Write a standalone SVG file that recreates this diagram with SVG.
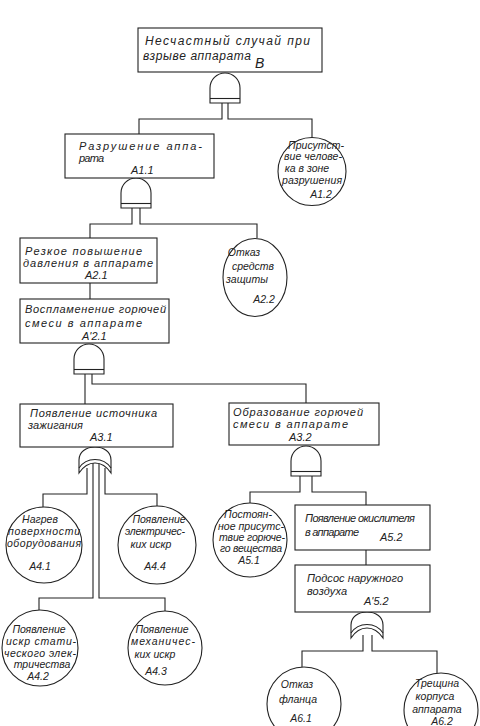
<svg xmlns="http://www.w3.org/2000/svg" width="480" height="726" viewBox="0 0 480 726">
<style>
.b{fill:#fff;stroke:#222;stroke-width:1.1}
.w{fill:none;stroke:#222;stroke-width:1.1}
.t{font-family:"Liberation Sans","DejaVu Sans",sans-serif;font-style:italic;font-size:11px;fill:#222}
.c{font-family:"Liberation Sans","DejaVu Sans",sans-serif;font-style:italic;font-size:10.5px;fill:#222;text-anchor:middle}
.T{font-family:"Liberation Sans","DejaVu Sans",sans-serif;font-style:italic;font-size:12px;fill:#222}
</style>
<defs>
<g id="and">
<path class="b" d="M -15 30 L -15 15 A 15 15 0 0 1 15 15 L 15 30 Z"/>
<line class="w" x1="-15" y1="25.5" x2="15" y2="25.5"/>
</g>
<g id="or">
<path class="b" d="M -16 26 L -16 13 C -16 5 -9 0 0 0 C 9 0 16 5 16 13 L 16 26 C 12 20 6 16 0 16 C -6 16 -12 20 -16 26 Z"/>
<path class="w" d="M -16 21 C -12 15 -6 12.5 0 12.5 C 6 12.5 12 15 16 21"/>
</g>
</defs>
<rect width="480" height="726" fill="#fff"/>
<g id="connectors" class="w">
<polyline points="222,103 222,119 139,119 139,134"/>
<polyline points="228,103 228,119 312,119 312,138"/>
<polyline points="132,207 132,224 90,224 90,238"/>
<polyline points="140,207 140,224 257,224 257,238"/>
<line x1="90" y1="283" x2="90" y2="299"/>
<line x1="85" y1="374" x2="85" y2="404"/>
<polyline points="92,374 92,384 306,384 306,403"/>
<polyline points="87,468 87,494 43,494 43,507"/>
<polyline points="105,468 105,494 157,494 157,506"/>
<polyline points="93,462 93,598 39,598 39,610"/>
<polyline points="99,462 99,598 165,598 165,611"/>
<polyline points="300,475 300,492 250,492 250,503"/>
<polyline points="312,475 312,492 366,492 366,505"/>
<line x1="366" y1="550" x2="366" y2="565"/>
<polyline points="363,635 363,651 302,651 302,667"/>
<polyline points="372,635 372,651 437,651 437,673"/>
</g>
<g id="gates">
<use href="#and" x="225" y="73"/>
<use href="#and" x="136" y="178"/>
<use href="#and" x="89" y="344"/>
<use href="#or" x="95" y="447"/>
<use href="#and" x="306" y="446"/>
<use href="#or" x="367" y="612"/>
</g>
<g id="B">
<rect class="b" x="138" y="28" width="184" height="44"/>
<text class="T" x="145" y="45" textLength="165">Несчастный случай при</text>
<text class="T" x="143" y="60" textLength="108">взрыве аппарата</text>
<text class="T" x="255" y="68" style="font-size:14px">В</text>
</g>
<g id="A1.1">
<rect class="b" x="65" y="134" width="149" height="44"/>
<text class="t" x="79" y="150" textLength="123">Разрушение аппа-</text>
<text class="t" x="79" y="162" textLength="25">рата</text>
<text class="t" x="131" y="174">A1.1</text>
</g>
<g id="A1.2">
<circle class="b" cx="312" cy="171.5" r="34"/>
<text class="c" x="316" y="149">Присутст-</text>
<text class="c" x="313" y="160" textLength="58">вие челове-</text>
<text class="c" x="307" y="172">ка в зоне</text>
<text class="c" x="312" y="184" textLength="60">разрушения</text>
<text class="c" x="321" y="198">A1.2</text>
</g>
<g id="A2.1">
<rect class="b" x="20" y="238" width="137" height="45"/>
<text class="t" x="25" y="255" textLength="117">Резкое повышение</text>
<text class="t" x="23" y="267" textLength="130">давления в аппарате</text>
<text class="t" x="85" y="279">A2.1</text>
</g>
<g id="A2.2">
<ellipse class="b" cx="255" cy="277.5" rx="32" ry="39"/>
<text class="c" x="244" y="256">Отказ</text>
<text class="c" x="253" y="270">средств</text>
<text class="c" x="247" y="283">защиты</text>
<text class="c" x="264" y="303">A2.2</text>
</g>
<g id="A'2.1">
<rect class="b" x="20" y="299" width="149" height="44"/>
<text class="t" x="25" y="313" textLength="141">Воспламенение горючей</text>
<text class="t" x="25" y="327" textLength="117">смеси в аппарате</text>
<text class="t" x="82" y="340">A'2.1</text>
</g>
<g id="A3.1">
<rect class="b" x="20" y="404" width="153" height="43"/>
<text class="t" x="30" y="417" textLength="127">Появление источника</text>
<text class="t" x="28" y="429" textLength="55">зажигания</text>
<text class="t" x="90" y="441">A3.1</text>
</g>
<g id="A3.2">
<rect class="b" x="229" y="403" width="150" height="42"/>
<text class="t" x="233" y="416" textLength="130">Образование горючей</text>
<text class="t" x="233" y="428" textLength="115">смеси в аппарате</text>
<text class="t" x="289" y="441">A3.2</text>
</g>
<g id="A4.1">
<circle class="b" cx="44" cy="545" r="38"/>
<text class="c" x="40" y="523">Нагрев</text>
<text class="c" x="44" y="535" textLength="72">поверхности</text>
<text class="c" x="44" y="547" textLength="74">оборудования</text>
<text class="c" x="40" y="570">A4.1</text>
</g>
<g id="A4.4">
<circle class="b" cx="157" cy="545" r="39"/>
<text class="c" x="159" y="523">Появление</text>
<text class="c" x="155" y="535" textLength="60">электричес-</text>
<text class="c" x="151" y="548">ких искр</text>
<text class="c" x="155" y="570">A4.4</text>
</g>
<g id="A4.2">
<circle class="b" cx="40" cy="648" r="38"/>
<text class="c" x="39" y="633">Появление</text>
<text class="c" x="41" y="645" textLength="70">искр стати-</text>
<text class="c" x="40" y="657" textLength="72">ческого элек-</text>
<text class="c" x="42" y="668">тричества</text>
<text class="c" x="38" y="680">A4.2</text>
</g>
<g id="A4.3">
<circle class="b" cx="165" cy="648" r="37"/>
<text class="c" x="162" y="633">Появление</text>
<text class="c" x="163" y="645" textLength="64">механичес-</text>
<text class="c" x="155" y="658">ких искр</text>
<text class="c" x="156" y="675">A4.3</text>
</g>
<g id="A5.1">
<circle class="b" cx="250" cy="540" r="37"/>
<text class="c" x="248" y="518">Постоян-</text>
<text class="c" x="251" y="530" textLength="66">ное присутс-</text>
<text class="c" x="252" y="541" textLength="66">твие горюче-</text>
<text class="c" x="251" y="552" textLength="62">го вещества</text>
<text class="c" x="249" y="564">A5.1</text>
</g>
<g id="A5.2">
<rect class="b" x="295" y="505" width="135" height="45"/>
<text class="t" x="305" y="522" textLength="110">Появление окислителя</text>
<text class="t" x="305" y="536" textLength="54">в аппарате</text>
<text class="t" x="380" y="541">A5.2</text>
</g>
<g id="A'5.2">
<rect class="b" x="295" y="565" width="135" height="47"/>
<text class="t" x="307" y="582" textLength="96">Подсос наружного</text>
<text class="t" x="307" y="595" textLength="40">воздуха</text>
<text class="t" x="364" y="605">A'5.2</text>
</g>
<g id="A6.1">
<circle class="b" cx="304" cy="704" r="37"/>
<text class="c" x="297" y="688">Отказ</text>
<text class="c" x="298" y="703">фланца</text>
<text class="c" x="301" y="722">A6.1</text>
</g>
<g id="A6.2">
<circle class="b" cx="441" cy="710" r="37"/>
<text class="c" x="437" y="687">Трещина</text>
<text class="c" x="435" y="700">корпуса</text>
<text class="c" x="437" y="713">аппарата</text>
<text class="c" x="442" y="725">A6.2</text>
</g>
</svg>
